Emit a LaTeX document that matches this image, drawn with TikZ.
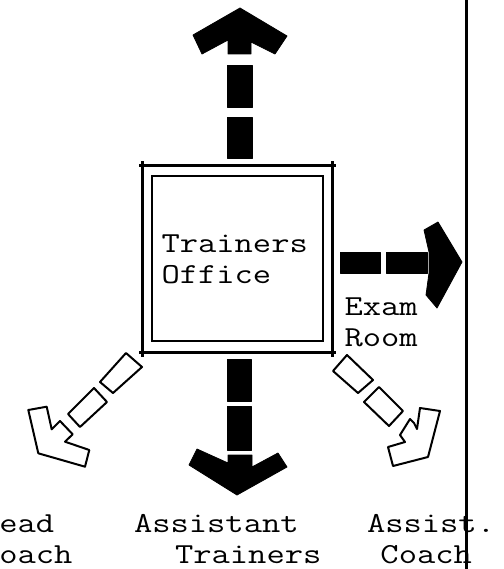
\documentclass[tikz,border=0pt]{standalone}
\begin{document}
\begin{tikzpicture}[x=1pt,y=-1pt,
  lbl/.style={font=\ttfamily\fontsize{29}{31}\selectfont, inner sep=0pt, outer sep=0pt, align=left, anchor=base west, xscale=1.225, transform shape},
  solidarrow/.style={fill=black, draw=black, line width=0.8pt, line join=round},
  openarrow/.style={draw=black, line width=2pt, line join=round},
  wall/.style={draw=black, line width=3pt},
]
\fill[white] (0,0) rectangle (503,569);
\useasboundingbox (0,0) rectangle (503,569);

% Trainers office (double square)
\node[draw, line width=3pt, minimum width=189.3pt, minimum height=187pt,
      inner sep=0pt, outer sep=0pt] (office) at (237.35,259.2) {};
\draw[line width=2pt] ([shift={(9.6,10)}]office.north west) rectangle ([shift={(-9.4,-11.5)}]office.south east);
\draw[line width=3pt] (office.north west) -- ++(-4,0) (office.north west) -- ++(0,-5)
                      (office.north east) -- ++(4,0)  (office.north east) -- ++(0,-5)
                      (office.south west) -- ++(-4,0) (office.south west) -- ++(0,4)
                      (office.south east) -- ++(4,0)  (office.south east) -- ++(0,4);

% labels (anchor = baseline of the last line)
\node[lbl] (officelbl) at (161.5,283.5) {Trainers\\Office};
\node[lbl] (exam) at (344.5,346.5) {Exam\\Room};
\node[lbl] (head) at (-19,563) {Head\\Coach};
\node[lbl] (asstr) at (134,563) {Assistant\\\hspace*{33.5pt}Trainers};
\node[lbl] (ascoach) at (367,563) {Assist.\\\hspace*{11pt}Coach};

% wall
\coordinate (wallT) at (466,0);
\coordinate (wallB) at (466,569);
\draw[wall] (wallT) -- (wallB);

% up arrow
\filldraw[solidarrow] (240,8) -- (287,36) -- (275,54) -- (251,42) -- (251,54) -- (228,54) -- (228,40) -- (202,54) -- (193,35) -- cycle;
\filldraw[solidarrow] (227,65) rectangle (252,107);
\filldraw[solidarrow] (227,117) rectangle (252,158);

% down arrow
\filldraw[solidarrow] (227.5,359) rectangle (251,401);
\filldraw[solidarrow] (227.5,406) rectangle (251,450);
\filldraw[solidarrow] (197,449) -- (228,463) -- (228,455) -- (252,455) -- (252,467) -- (278,453) -- (287,467) -- (237,495) -- (189,465) -- cycle;

% right arrow
\filldraw[solidarrow] (340,252) rectangle (380,273);
\filldraw[solidarrow] (386,252) rectangle (427,273);
\filldraw[solidarrow] (424,230) -- (438,222) -- (462,262) -- (437,308) -- (426,295) -- (429,273) -- (429,252) -- cycle;

% lower-left open arrow
\draw[openarrow] (126,353) -- (142,367) -- (113,393) -- (100,382) -- cycle;
\draw[openarrow] (94,388) -- (107,402) -- (80,427) -- (68,414) -- cycle;
\draw[openarrow] (46.7,406.7) -- (51.7,429.3) -- (60,421) -- (72.7,434.3) -- (65,441.7) -- (89.3,450) -- (85,466.7) -- (38.3,453.3) -- (28.3,410) -- cycle;

% lower-right open arrow
\draw[openarrow] (347,355) -- (373,380) -- (358,393) -- (333,371) -- cycle;
\draw[openarrow] (379,387) -- (403,411) -- (389,426) -- (364,402) -- cycle;
\draw[openarrow] (420,408) -- (440,411) -- (428,457) -- (393,466) -- (388,447) -- (405,442) -- (400,435) -- (410,419) -- (414,423) -- (417,429) -- cycle;
\end{tikzpicture}
\end{document}
